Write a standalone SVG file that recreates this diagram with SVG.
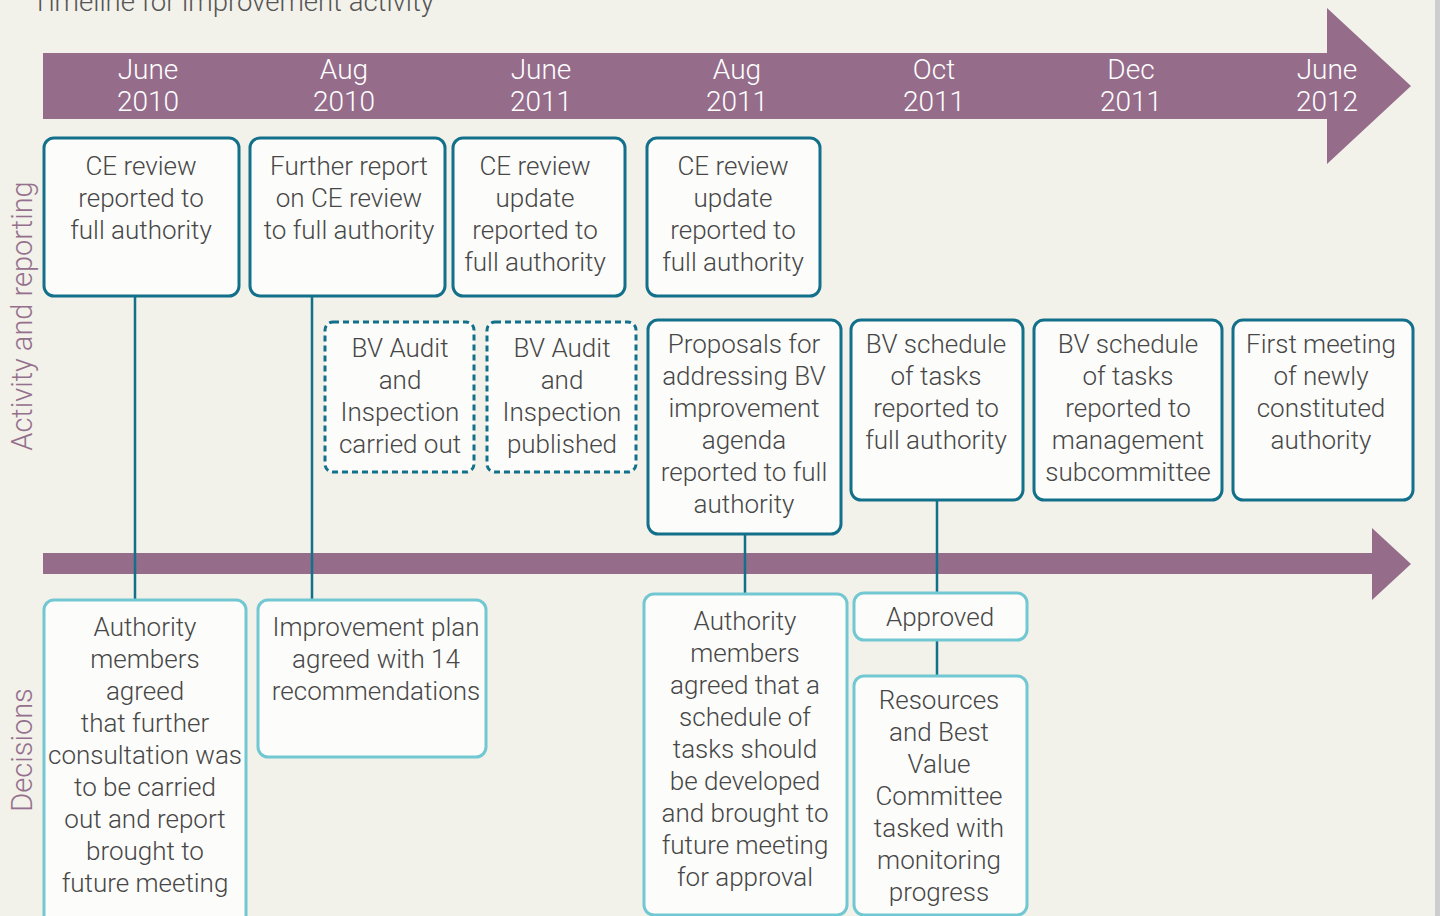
<svg xmlns="http://www.w3.org/2000/svg" width="1440" height="916" viewBox="0 0 1440 916">
<style>
.t{font-family:Roboto,"Liberation Sans",sans-serif;font-weight:300;font-size:26px;fill:#474747;text-anchor:middle}
.d{font-family:Roboto,"Liberation Sans",sans-serif;font-weight:300;font-size:28px;fill:#ffffff;text-anchor:middle}
.side{font-family:Roboto,"Liberation Sans",sans-serif;font-weight:300;font-size:29px;fill:#94708c;text-anchor:middle}
.a{fill:#fcfcfa;stroke:#12708b;stroke-width:3}
.ad{fill:#fcfcfa;stroke:#12708b;stroke-width:3;stroke-dasharray:6 4}
.b{fill:#fcfcfa;stroke:#72c8d2;stroke-width:3}
.c{stroke:#12708b;stroke-width:2.5;fill:none}
</style>
<rect x="0" y="0" width="1440" height="916" fill="#f2f1ea"/>
<rect x="1435" y="0" width="5" height="916" fill="#cdcdd0"/>
<text x="32" y="11" style="font-family:Roboto,'Liberation Sans',sans-serif;font-weight:300;font-size:27.5px;fill:#555555">Timeline for improvement activity</text>
<g id="timeline-top">
<path d="M43 53 H1327 V8 L1411 86 L1327 164 V119 H43 Z" fill="#956d8b"/>
<text class="d" x="148" y="79">June</text><text class="d" x="148" y="111">2010</text>
<text class="d" x="344" y="79">Aug</text><text class="d" x="344" y="111">2010</text>
<text class="d" x="541" y="79">June</text><text class="d" x="541" y="111">2011</text>
<text class="d" x="737" y="79">Aug</text><text class="d" x="737" y="111">2011</text>
<text class="d" x="934" y="79">Oct</text><text class="d" x="934" y="111">2011</text>
<text class="d" x="1131" y="79">Dec</text><text class="d" x="1131" y="111">2011</text>
<text class="d" x="1327" y="79">June</text><text class="d" x="1327" y="111">2012</text>
</g>
<g id="timeline-bottom">
<path d="M43 553 H1372 V528 L1411 564 L1372 600 V574 H43 Z" fill="#956d8b"/>
</g>
<text class="side" transform="translate(32 316) rotate(-90)">Activity and reporting</text>
<text class="side" transform="translate(32 750) rotate(-90)">Decisions</text>
<g id="connectors">
<line class="c" x1="135" y1="296" x2="135" y2="599"/>
<line class="c" x1="312" y1="296" x2="312" y2="599"/>
<line class="c" x1="745" y1="534" x2="745" y2="594"/>
<line class="c" x1="937" y1="500" x2="937" y2="593"/>
<line class="c" x1="937" y1="641" x2="937" y2="676"/>
</g>
<g id="n1"><rect class="a" x="44" y="138" width="195" height="158" rx="10"/>
<text class="t" x="141" y="175">CE review</text><text class="t" x="141" y="207">reported to</text><text class="t" x="141" y="239">full authority</text></g>
<g id="n2"><rect class="a" x="250" y="138" width="195" height="158" rx="10"/>
<text class="t" x="349" y="175">Further report</text><text class="t" x="349" y="207">on CE review</text><text class="t" x="349" y="239">to full authority</text></g>
<g id="n3"><rect class="a" x="453" y="138" width="172" height="158" rx="10"/>
<text class="t" x="535" y="175">CE review</text><text class="t" x="535" y="207">update</text><text class="t" x="535" y="239">reported to</text><text class="t" x="535" y="271">full authority</text></g>
<g id="n4"><rect class="a" x="647" y="138" width="173" height="158" rx="10"/>
<text class="t" x="733" y="175">CE review</text><text class="t" x="733" y="207">update</text><text class="t" x="733" y="239">reported to</text><text class="t" x="733" y="271">full authority</text></g>
<g id="n5"><rect class="ad" x="325" y="322" width="149" height="150" rx="8"/>
<text class="t" x="400" y="357">BV Audit</text><text class="t" x="400" y="389">and</text><text class="t" x="400" y="421">Inspection</text><text class="t" x="400" y="453">carried out</text></g>
<g id="n6"><rect class="ad" x="487" y="322" width="149" height="150" rx="8"/>
<text class="t" x="562" y="357">BV Audit</text><text class="t" x="562" y="389">and</text><text class="t" x="562" y="421">Inspection</text><text class="t" x="562" y="453">published</text></g>
<g id="n7"><rect class="a" x="648" y="320" width="193" height="214" rx="10"/>
<text class="t" x="744" y="353">Proposals for</text><text class="t" x="744" y="385">addressing BV</text><text class="t" x="744" y="417">improvement</text><text class="t" x="744" y="449">agenda</text><text class="t" x="744" y="481">reported to full</text><text class="t" x="744" y="513">authority</text></g>
<g id="n8"><rect class="a" x="851" y="320" width="172" height="180" rx="10"/>
<text class="t" x="936" y="353">BV schedule</text><text class="t" x="936" y="385">of tasks</text><text class="t" x="936" y="417">reported to</text><text class="t" x="936" y="449">full authority</text></g>
<g id="n9"><rect class="a" x="1034" y="320" width="188" height="180" rx="10"/>
<text class="t" x="1128" y="353">BV schedule</text><text class="t" x="1128" y="385">of tasks</text><text class="t" x="1128" y="417">reported to</text><text class="t" x="1128" y="449">management</text><text class="t" x="1128" y="481">subcommittee</text></g>
<g id="n10"><rect class="a" x="1233" y="320" width="180" height="180" rx="10"/>
<text class="t" x="1321" y="353">First meeting</text><text class="t" x="1321" y="385">of newly</text><text class="t" x="1321" y="417">constituted</text><text class="t" x="1321" y="449">authority</text></g>
<g id="d1"><rect class="b" x="44" y="600" width="202" height="330" rx="10"/>
<text class="t" x="145" y="636">Authority</text><text class="t" x="145" y="668">members</text><text class="t" x="145" y="700">agreed</text><text class="t" x="145" y="732">that further</text><text class="t" x="145" y="764">consultation was</text><text class="t" x="145" y="796">to be carried</text><text class="t" x="145" y="828">out and report</text><text class="t" x="145" y="860">brought to</text><text class="t" x="145" y="892">future meeting</text></g>
<g id="d2"><rect class="b" x="258" y="600" width="228" height="157" rx="10"/>
<text class="t" x="376" y="636">Improvement plan</text><text class="t" x="376" y="668">agreed with 14</text><text class="t" x="376" y="700">recommendations</text></g>
<g id="d3"><rect class="b" x="644" y="594" width="203" height="321" rx="10"/>
<text class="t" x="745" y="630">Authority</text><text class="t" x="745" y="662">members</text><text class="t" x="745" y="694">agreed that a</text><text class="t" x="745" y="726">schedule of</text><text class="t" x="745" y="758">tasks should</text><text class="t" x="745" y="790">be developed</text><text class="t" x="745" y="822">and brought to</text><text class="t" x="745" y="854">future meeting</text><text class="t" x="745" y="886">for approval</text></g>
<g id="d4"><rect class="b" x="854" y="593" width="173" height="47" rx="10"/>
<text class="t" x="940" y="626">Approved</text></g>
<g id="d5"><rect class="b" x="854" y="676" width="173" height="239" rx="10"/>
<text class="t" x="939" y="709">Resources</text><text class="t" x="939" y="741">and Best</text><text class="t" x="939" y="773">Value</text><text class="t" x="939" y="805">Committee</text><text class="t" x="939" y="837">tasked with</text><text class="t" x="939" y="869">monitoring</text><text class="t" x="939" y="901">progress</text></g>
</svg>
